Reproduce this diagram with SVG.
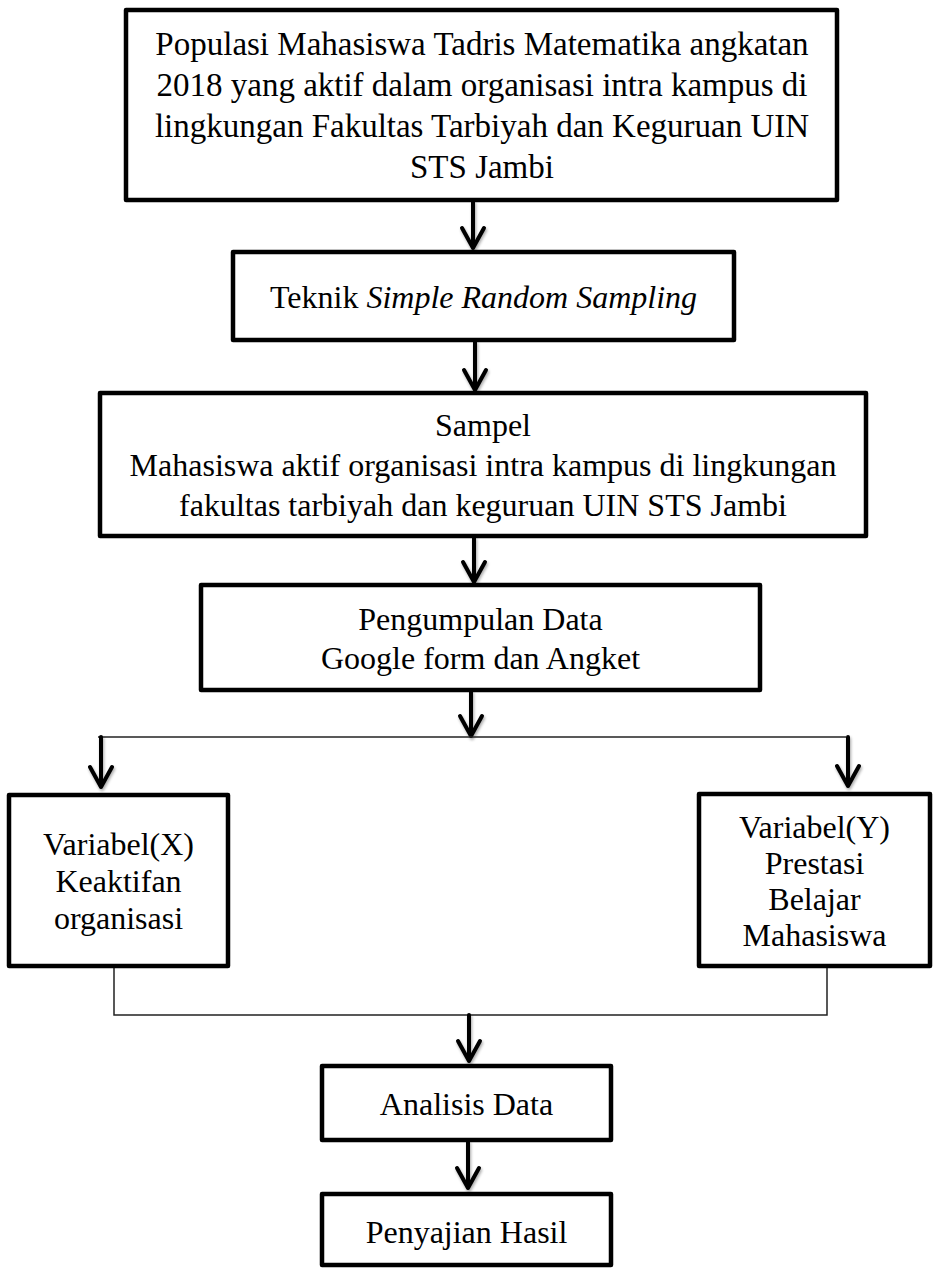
<svg xmlns="http://www.w3.org/2000/svg" width="934" height="1269" viewBox="0 0 934 1269">
<style>
.box{fill:#fff;stroke:#000;stroke-width:4.5;stroke-linejoin:round}
.t{font-family:"Liberation Serif","Times New Roman",serif;font-size:32px;fill:#000;text-anchor:middle}
.big{font-size:33px}
.arr{stroke:#000;stroke-width:4;fill:none;stroke-linecap:round;stroke-linejoin:round;filter:url(#sh)}
.thin{stroke:#222;stroke-width:1.5;fill:none}
</style>
<defs>
<filter id="sh" x="-50%" y="-20%" width="200%" height="140%">
<feGaussianBlur in="SourceAlpha" stdDeviation="1.5"/>
<feOffset dx="1" dy="1.5" result="b"/>
<feComponentTransfer><feFuncA type="linear" slope="0.35"/></feComponentTransfer>
<feMerge><feMergeNode/><feMergeNode in="SourceGraphic"/></feMerge>
</filter>
</defs>
<rect width="934" height="1269" fill="#fff"/>
<g id="connectors">
<path class="arr" d="M473 202V248M462 228L473 248L484 228"/>
<path class="arr" d="M475 342V390M464 370L475 390L486 370"/>
<path class="arr" d="M474 538V582M463 562L474 582L485 562"/>
<path class="arr" d="M471 692V736M460 716L471 736L482 716"/>
<path class="thin" d="M98 737H846"/>
<path class="arr" d="M101 737V787M90 767L101 787L112 767"/>
<path class="arr" d="M848 737V786M837 766L848 786L859 766"/>
<path class="thin" d="M114 968V1015H827V968"/>
<path class="arr" d="M469 1015V1061M458 1041L469 1061L480 1041"/>
<path class="arr" d="M468 1142V1188M457 1168L468 1188L479 1168"/>
</g>
<g id="populasi">
<rect class="box" x="126" y="10" width="711" height="190"/>
<text class="t big" x="482" y="55">Populasi Mahasiswa Tadris Matematika angkatan</text>
<text class="t big" x="482" y="96">2018 yang aktif dalam organisasi intra kampus di</text>
<text class="t big" x="482" y="137">lingkungan Fakultas Tarbiyah dan Keguruan UIN</text>
<text class="t big" x="482" y="178">STS Jambi</text>
</g>
<g id="teknik">
<rect class="box" x="233" y="252" width="501" height="88"/>
<text class="t" x="483.5" y="308">Teknik <tspan font-style="italic">Simple Random Sampling</tspan></text>
</g>
<g id="sampel">
<rect class="box" x="100" y="393" width="766" height="143"/>
<text class="t" x="483" y="436">Sampel</text>
<text class="t" x="483" y="476">Mahasiswa aktif organisasi intra kampus di lingkungan</text>
<text class="t" x="483" y="516">fakultas tarbiyah dan keguruan UIN STS Jambi</text>
</g>
<g id="pengumpulan">
<rect class="box" x="201" y="585" width="559" height="105"/>
<text class="t" x="480.5" y="630">Pengumpulan Data</text>
<text class="t" x="480.5" y="669">Google form dan Angket</text>
</g>
<g id="variabel-x">
<rect class="box" x="9" y="795" width="219" height="171"/>
<text class="t" x="118.5" y="855">Variabel(X)</text>
<text class="t" x="118.5" y="892">Keaktifan</text>
<text class="t" x="118.5" y="929">organisasi</text>
</g>
<g id="variabel-y">
<rect class="box" x="699" y="794" width="231" height="172"/>
<text class="t" x="814.5" y="838">Variabel(Y)</text>
<text class="t" x="814.5" y="874">Prestasi</text>
<text class="t" x="814.5" y="910">Belajar</text>
<text class="t" x="814.5" y="946">Mahasiswa</text>
</g>
<g id="analisis">
<rect class="box" x="322" y="1066" width="289" height="74"/>
<text class="t" x="466.5" y="1115">Analisis Data</text>
</g>
<g id="penyajian">
<rect class="box" x="322" y="1194" width="289" height="71"/>
<text class="t" x="466.5" y="1243">Penyajian Hasil</text>
</g>
</svg>
